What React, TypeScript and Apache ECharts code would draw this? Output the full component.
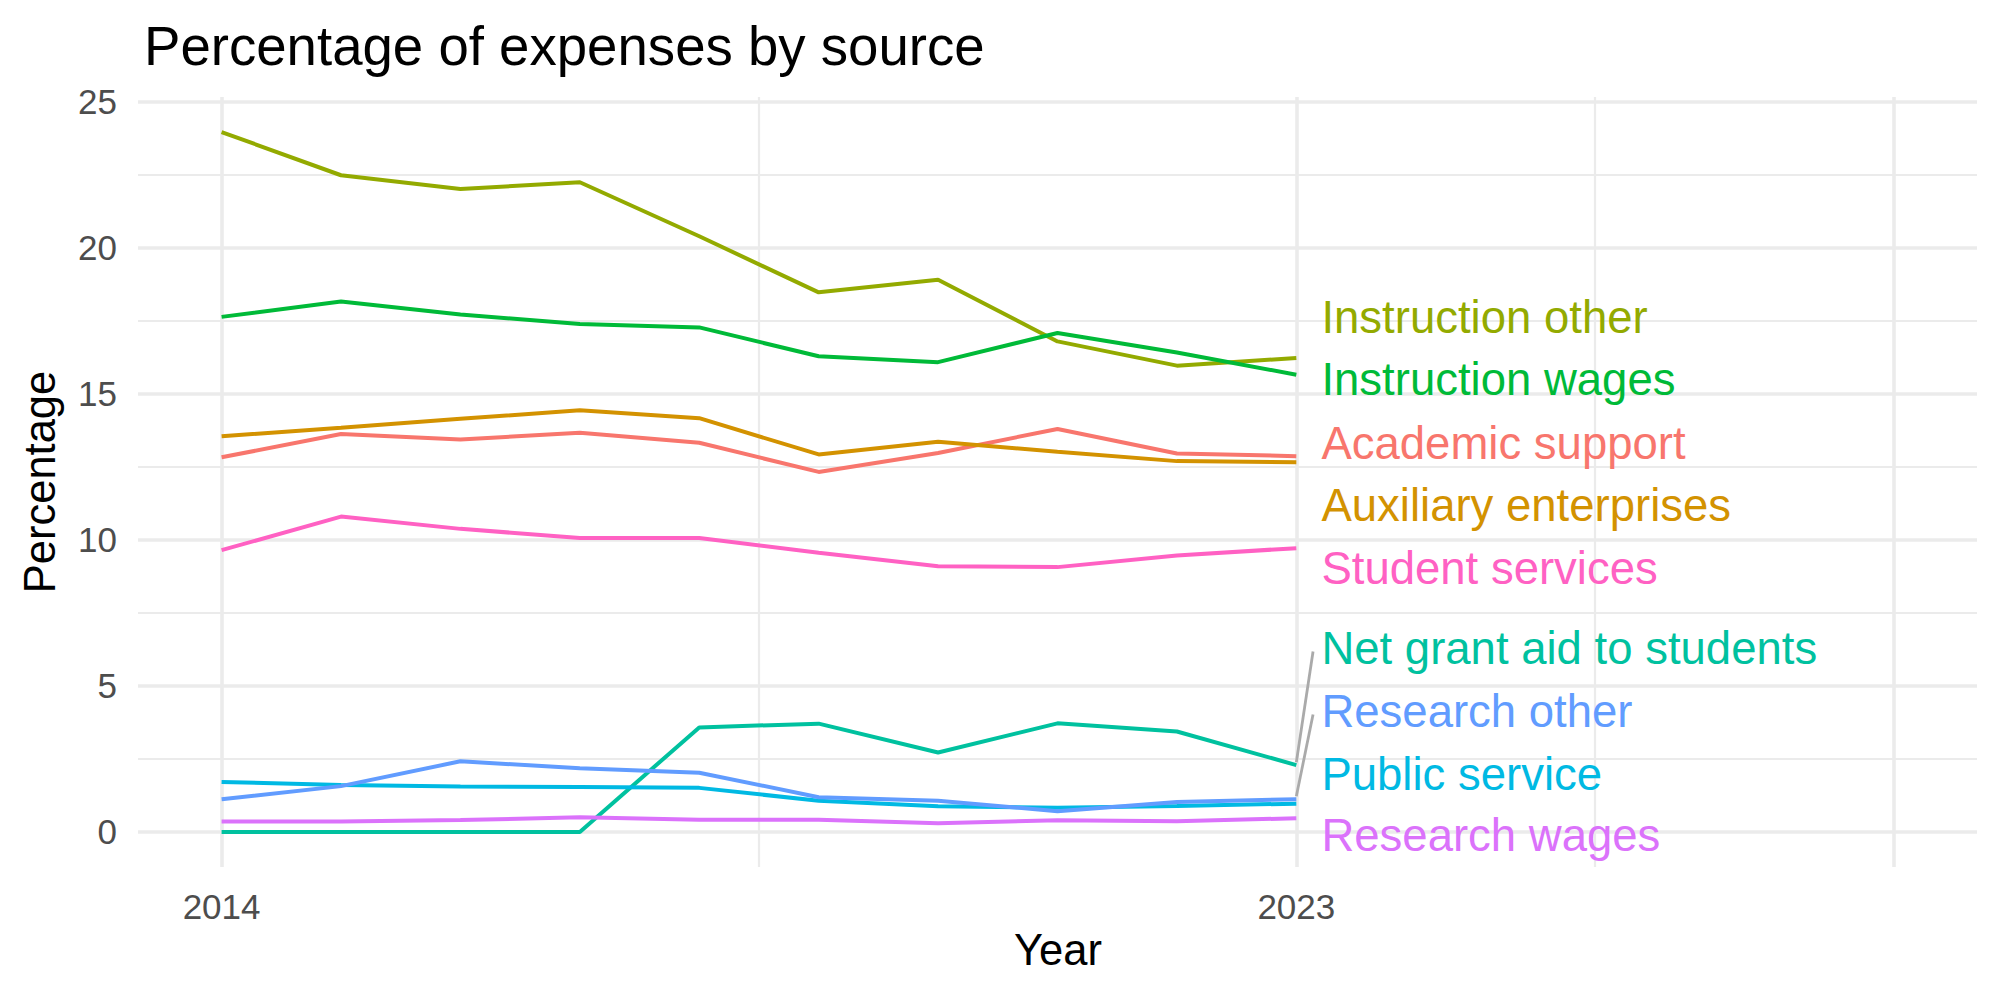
import React, { useEffect, useRef } from "react";
import * as echarts from "echarts";

const years = [2014, 2015, 2016, 2017, 2018, 2019, 2020, 2021, 2022, 2023];

const seriesNames = [
  "Academic support",
  "Auxiliary enterprises",
  "Instruction other",
  "Instruction wages",
  "Net grant aid to students",
  "Public service",
  "Research other",
  "Research wages",
  "Student services",
];

const colors = [
  "#F8766D",
  "#D39200",
  "#93AA00",
  "#00BA38",
  "#00C19F",
  "#00B9E3",
  "#619CFF",
  "#DB72FB",
  "#FF61C3",
];

const academicSupport = [12.83, 13.63, 13.44, 13.67, 13.33, 12.33, 12.98, 13.8, 12.96, 12.87];
const auxiliaryEnterprises = [13.55, 13.84, 14.15, 14.44, 14.17, 12.93, 13.36, 13.02, 12.7, 12.66];
const instructionOther = [23.97, 22.49, 22.02, 22.25, 20.4, 18.48, 18.91, 16.8, 15.97, 16.23];
const instructionWages = [17.64, 18.17, 17.72, 17.4, 17.28, 16.29, 16.09, 17.09, 16.42, 15.66];
const netGrantAid = [0, 0, 0, 0, 3.58, 3.71, 2.72, 3.72, 3.44, 2.29];
const publicService = [1.71, 1.61, 1.56, 1.54, 1.51, 1.07, 0.88, 0.83, 0.89, 0.97];
const researchOther = [1.12, 1.57, 2.42, 2.18, 2.03, 1.19, 1.07, 0.71, 1.03, 1.12];
const researchWages = [0.36, 0.36, 0.41, 0.5, 0.42, 0.42, 0.3, 0.4, 0.37, 0.47];
const studentServices = [9.65, 10.8, 10.38, 10.07, 10.07, 9.56, 9.1, 9.07, 9.47, 9.72];

const seriesValues = [
  academicSupport,
  auxiliaryEnterprises,
  instructionOther,
  instructionWages,
  netGrantAid,
  publicService,
  researchOther,
  researchWages,
  studentServices,
];

// repelled label positions (y value of each label, by series index)
const labelY = [13.32, 11.18, 17.63, 15.48, 6.3, 1.98, 4.14, -0.12, 9.03];
const labelX = 2023.21;
// series whose labels are joined to their line end by a segment
const segmentSeries = [4, 6];
const segmentX = 2023.14;

const xMajor = [2014, 2023, 2028];
const xMinor = [2018.5, 2025.5];
const xLabels = [2014, 2023];
const yMajor = [0, 5, 10, 15, 20, 25];
const yMinor = [2.5, 7.5, 12.5, 17.5, 22.5];

export default function App() {
  const ref = useRef<HTMLDivElement>(null);

  useEffect(() => {
    const chart = echarts.init(ref.current!, null, { renderer: "svg" });
    const font = "Liberation Sans, Arial, sans-serif";
    const gridColor = "#EBEBEB";

    const gridLines: any[] = [
      ...yMinor.map((v) => ({ yAxis: v, lineStyle: { width: 2.2, color: gridColor, type: "solid" } })),
      ...xMinor.map((v) => ({ xAxis: v, lineStyle: { width: 2.2, color: gridColor, type: "solid" } })),
      ...yMajor.map((v) => ({ yAxis: v, lineStyle: { width: 3.6, color: gridColor, type: "solid" } })),
      ...xMajor.map((v) => ({ xAxis: v, lineStyle: { width: 3.6, color: gridColor, type: "solid" } })),
    ];

    const lineSeries = seriesNames.map((name, i) => ({
      name,
      type: "line",
      data: years.map((y, j) => [y, seriesValues[i][j]]),
      showSymbol: false,
      symbol: "none",
      lineStyle: { color: colors[i], width: 4, opacity: 1 },
      itemStyle: { color: colors[i] },
      z: 3,
      silent: true,
    }));

    const segSeries = segmentSeries.map((i) => ({
      type: "line",
      data: [
        [years[years.length - 1], seriesValues[i][years.length - 1] + 0.1],
        [segmentX, labelY[i] - 0.12],
      ],
      symbol: "none",
      lineStyle: { color: "#AAAAAA", width: 2.8 },
      z: 4,
      silent: true,
    }));

    const labelSeries = {
      type: "scatter",
      symbolSize: 0,
      silent: true,
      z: 5,
      itemStyle: { opacity: 1 },
      data: seriesNames.map((name, i) => ({
        name,
        value: [labelX, labelY[i]],
        itemStyle: { opacity: 1 },
        label: {
          show: true,
          position: "right",
          distance: 0,
          formatter: name,
          color: colors[i],
          opacity: 1,
          fontSize: 45.5,
          fontFamily: font,
          align: "left",
          verticalAlign: "middle",
        },
      })),
    };

    const option: any = {
      animation: false,
      backgroundColor: "#FFFFFF",
      title: {
        text: "Percentage of expenses by source",
        left: 139,
        top: 14,
        textStyle: { fontSize: 54.6, fontWeight: "normal", color: "#000000", fontFamily: font },
      },
      grid: { left: 138, right: 23, top: 97, bottom: 133, containLabel: false },
      xAxis: {
        type: "value",
        min: 2013.3,
        max: 2028.7,
        axisLine: { show: false },
        axisTick: { show: false },
        splitLine: { show: false },
        axisLabel: {
          customValues: xLabels,
          color: "#4D4D4D",
          fontSize: 35,
          fontFamily: font,
          margin: 22,
          formatter: (v: number) => String(v),
        },
      },
      yAxis: {
        type: "value",
        min: -1.2,
        max: 25.17,
        axisLine: { show: false },
        axisTick: { show: false },
        splitLine: { show: false },
        axisLabel: {
          customValues: yMajor,
          color: "#4D4D4D",
          fontSize: 35,
          fontFamily: font,
          margin: 21,
          formatter: (v: number) => String(v),
        },
      },
      graphic: [
        {
          type: "text",
          x: 1058,
          y: 950,
          style: {
            text: "Year",
            fontSize: 43.5,
            fontFamily: font,
            fill: "#000000",
            align: "center",
            verticalAlign: "middle",
          },
        },
        {
          type: "text",
          x: 40,
          y: 482,
          rotation: Math.PI / 2,
          style: {
            text: "Percentage",
            fontSize: 43.5,
            fontFamily: font,
            fill: "#000000",
            align: "center",
            verticalAlign: "middle",
          },
        },
      ],
      series: [
        {
          type: "line",
          data: [[2014, 0]],
          symbol: "none",
          lineStyle: { opacity: 0 },
          z: 0,
          zlevel: 0,
          silent: true,
          markLine: {
            silent: true,
            z: 0,
            symbol: ["none", "none"],
            label: { show: false },
            animation: false,
            data: gridLines,
          },
        },
        ...lineSeries,
        ...segSeries,
        labelSeries,
      ],
    };

    chart.setOption(option);
    return () => chart.dispose();
  }, []);

  return (
    <div
      ref={ref}
      style={{ position: "fixed", left: 0, top: 0, width: 2000, height: 1000, background: "#fff" }}
    />
  );
}
